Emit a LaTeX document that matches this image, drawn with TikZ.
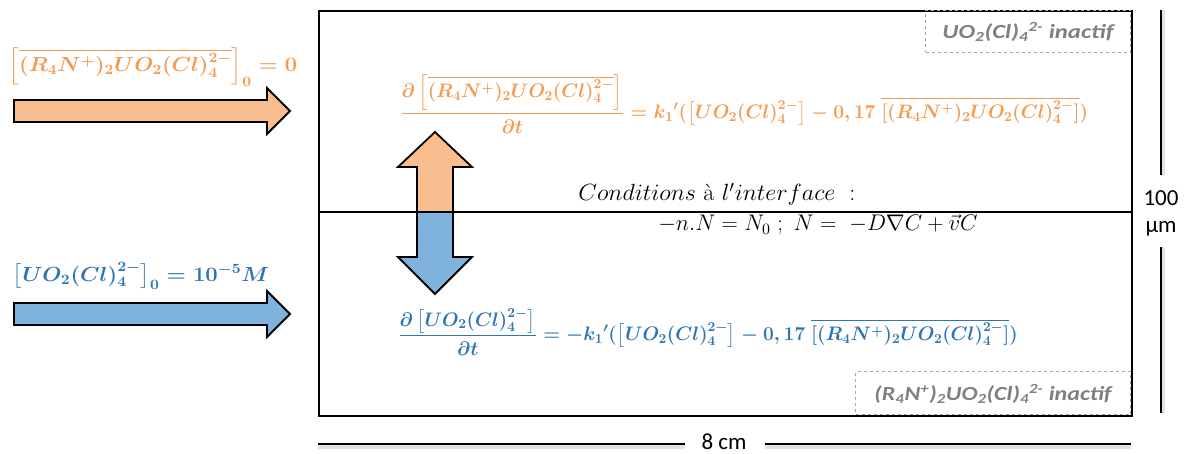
\RequirePackage{fix-cm}
\documentclass[tikz,border=0pt]{standalone}
\usepackage{amsmath}
\usepackage{graphicx}
\usepackage[no-math]{fontspec}
\newfontfamily\calib{Carlito}
\definecolor{otxt}{HTML}{F49A52}
\definecolor{btxt}{HTML}{2E75B6}
\definecolor{ofill}{HTML}{F8BE8F}
\definecolor{bfill}{HTML}{7FB2DD}
\definecolor{gtxt}{HTML}{808080}
\newcommand{\RNU}{(R_4N^+)_2UO_2(Cl)_4^{2-}}
\newcommand{\UOC}{UO_2(Cl)_4^{2-}}
\newcommand{\eqsize}{\fontsize{17}{20}\selectfont}
\newsavebox{\bxlo}
\newsavebox{\bxlb}
\newsavebox{\bxeo}
\newsavebox{\bxeb}
\newsavebox{\bxca}
\newsavebox{\bxcb}
\newsavebox{\bxia}
\newsavebox{\bxib}
\tikzset{
  mathlbl/.style={inner sep=0pt},
  dimtext/.style={inner sep=0pt, font=\calib\fontsize{23}{26}\selectfont},
  arrowshape/.style={draw=black, line width=1.8pt, line join=miter},
  dimline/.style={line width=1.4pt},
  shadowline/.style={line width=3pt, gray!22},
  dashbox/.style={draw=gray!70, dashed, line width=0.9pt, inner sep=0pt}
}
\begin{document}
\sbox{\bxlo}{\scalebox{1.29}[1.2]{\eqsize\color{otxt}\boldmath$\left[\overline{\RNU}\right]_0 = 0$}}%
\sbox{\bxlb}{\scalebox{1.30}[1.2]{\eqsize\color{btxt}\boldmath$\left[\UOC\right]_0 = 10^{-5}M$}}%
\sbox{\bxeo}{\scalebox{1.13}[1.15]{\eqsize\color{otxt}\boldmath$\dfrac{\partial\left[\overline{\RNU}\right]}{\partial t} = {k_1}'(\left[\UOC\right] - 0,17\ \overline{[\RNU]})$}}%
\sbox{\bxeb}{\scalebox{1.13}[1.15]{\eqsize\color{btxt}\boldmath$\dfrac{\partial\left[\UOC\right]}{\partial t} = -{k_1}'(\left[\UOC\right] - 0,17\ \overline{[\RNU]})$}}%
\sbox{\bxca}{\scalebox{1.42}[1.38]{\eqsize$Conditions\ \mbox{à}\ l'interface\ :$}}%
\sbox{\bxcb}{\scalebox{1.33}[1.33]{\eqsize$-n.N = N_0\ ;\ N =\ -D\nabla C + \vec{v}C$}}%
\sbox{\bxia}{\scalebox{1.24}[1.0]{\color{gtxt}\calib\bfseries\itshape\fontsize{20}{23}\selectfont UO\textsubscript{2}(Cl)\textsubscript{4}\textsuperscript{2-} inactif}}%
\sbox{\bxib}{\scalebox{1.20}[1.0]{\color{gtxt}\calib\bfseries\itshape\fontsize{20}{23}\selectfont (R\textsubscript{4}N\textsuperscript{+})\textsubscript{2}UO\textsubscript{2}(Cl)\textsubscript{4}\textsuperscript{2-} inactif}}%
\begin{tikzpicture}[x=1pt,y=-1pt]
\useasboundingbox (0,0) rectangle (1187,454);
% left arrows
\path[arrowshape, fill=ofill] (14,100) -- (267,100) -- (267,88) -- (290,111) -- (267,134) -- (267,122) -- (14,122) -- cycle;
\path[arrowshape, fill=bfill] (14,303) -- (267,303) -- (267,291) -- (290,314) -- (267,337) -- (267,325) -- (14,325) -- cycle;
% main box
\node[draw, line width=2pt, minimum width=813pt, minimum height=405pt, inner sep=0pt, anchor=north west] (box) at (318,10) {};
% dashed boxes
\node[dashbox, minimum width=205pt, minimum height=42pt, anchor=north east] (top) at (1131,10) {};
\node[dashbox, minimum width=275pt, minimum height=43pt, anchor=south east] (bot) at (1131,415) {};
\node[mathlbl] (in1) at (1028,32) {\usebox{\bxia}};
\node[mathlbl] (in2) at (993,394) {\usebox{\bxib}};
% double arrow
\path[fill=ofill] (435,132) -- (472,167) -- (453,167) -- (453,212) -- (417,212) -- (417,167) -- (398,167) -- cycle;
\path[fill=bfill] (417,212) -- (453,212) -- (453,257) -- (472,257) -- (435,294) -- (398,257) -- (417,257) -- cycle;
\draw[line width=1.8pt, line join=miter] (435,132) -- (472,167) -- (453,167) -- (453,257) -- (472,257) -- (435,294) -- (398,257) -- (417,257) -- (417,167) -- (398,167) -- cycle;
% interface
\coordinate (il) at (318,212);
\coordinate (ir) at (1131,212);
\draw[line width=2pt] (il) -- (ir);
% labels left
\node[mathlbl] (lo) at (153,67) {\usebox{\bxlo}};
\node[mathlbl] (lb) at (141,276) {\usebox{\bxlb}};
% equations
\node[mathlbl, anchor=west] (eo) at (400,104) {\usebox{\bxeo}};
\node[mathlbl, anchor=west] (eb) at (398,332) {\usebox{\bxeb}};
\node[mathlbl] (c1) at (717,194) {\usebox{\bxca}};
\node[mathlbl] (c2) at (818,225) {\usebox{\bxcb}};
% 100 um
\node[dimtext] (h1) at (1161,198) {100};
\node[dimtext] (h2) at (1161,229) {µm};
\coordinate (vt) at (1161,10);
\coordinate (vb) at (1161,413);
\draw[shadowline, shorten >=15pt] ([xshift=2pt]vt) -- ([xshift=2pt]h1.north);
\draw[shadowline, shorten <=10pt] ([xshift=2pt]h2.south) -- ([xshift=2pt]vb);
\draw[dimline, shorten >=15pt] (vt) -- (h1.north);
\draw[dimline, shorten <=10pt] (h2.south) -- (vb);
% 8 cm
\node[dimtext] (w) at (724,442) {8 cm};
\coordinate (hl) at (318,444);
\coordinate (hr) at (1131,444);
\draw[shadowline, shorten >=16pt] ([yshift=-3pt]hl) -- ([yshift=-3pt]hl -| w.west);
\draw[shadowline, shorten <=18pt] ([yshift=-3pt]hr -| w.east) -- ([yshift=-3pt]hr);
\draw[dimline, shorten >=16pt] (hl) -- (hl -| w.west);
\draw[dimline, shorten <=18pt] (hr -| w.east) -- (hr);
\end{tikzpicture}
\end{document}
